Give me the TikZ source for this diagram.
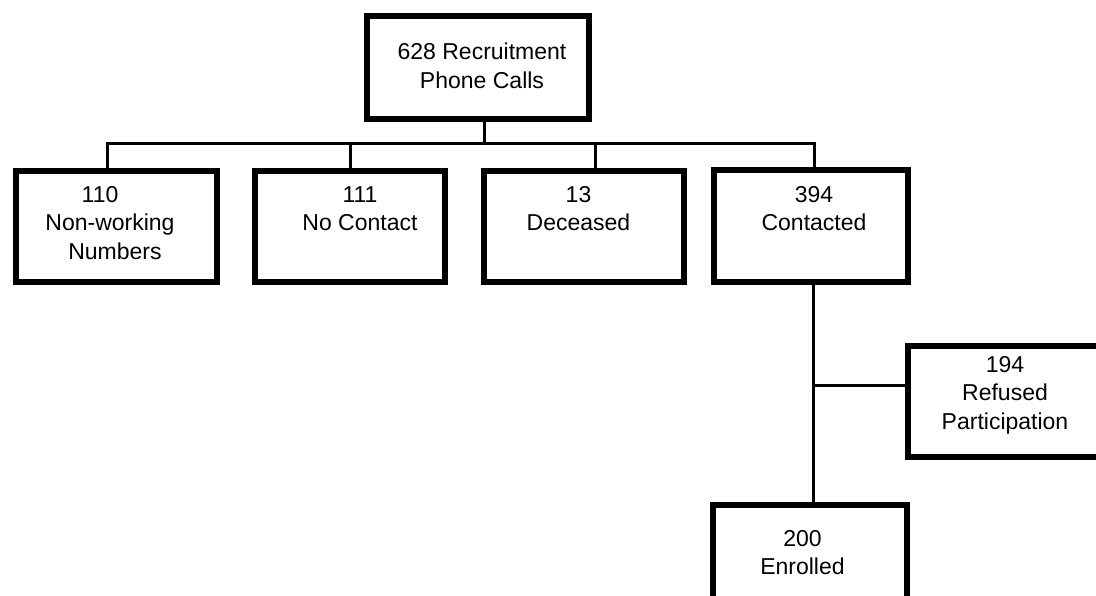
\documentclass[tikz,border=0pt]{standalone}
\usepackage{fontspec}
\setmainfont{Liberation Sans}
\begin{document}
\begin{tikzpicture}[x=1pt,y=-1pt,
  box/.style={draw=black,line width=6pt,rectangle,inner sep=0pt,fill=white},
  lbl/.style={align=center,font=\fontsize{23}{28.5}\selectfont,inner sep=0pt},
  conn/.style={draw=black,line width=3pt}]
\useasboundingbox (0,0) rectangle (1096,596);
\clip (0,0) rectangle (1096,596);
\fill[white] (0,0) rectangle (1096,596);
% boxes
\node[box,minimum width=222pt,minimum height=103pt] (top) at (478,67.5) {};
\node[box,minimum width=201pt,minimum height=111pt] (nonwork) at (116.5,226.5) {};
\node[box,minimum width=190pt,minimum height=111pt] (nocontact) at (350,226.5) {};
\node[box,minimum width=200pt,minimum height=111pt] (deceased) at (584,226.5) {};
\node[box,minimum width=194pt,minimum height=112pt] (contacted) at (811,226) {};
\node[box,minimum width=194pt,minimum height=111pt] (refused) at (1005,401.5) {};
\node[box,minimum width=194pt,minimum height=111pt] (enrolled) at (810,560.5) {};
% labels
\node[lbl] (ttop) at (482,66) {628 Recruitment\\Phone Calls};
\node[lbl] (tnonwork) at (110,223) {\hspace*{-20pt}110\\Non-working\\\hspace*{10pt}Numbers};
\node[lbl] (tnocontact) at (360,208.5) {111\\No Contact};
\node[lbl] (tdeceased) at (578.5,208.5) {13\\Deceased};
\node[lbl] (tcontacted) at (814,208.5) {394\\Contacted};
\node[lbl] (trefused) at (1005,395) {194\\Refused\\Participation};
\node[lbl] (tenrolled) at (802.5,552.5) {200\\Enrolled};
% connectors
\coordinate (bus) at (484,144);
\coordinate (branch) at (813,385);
\draw[conn] ([xshift=6pt]top.south) -- (bus);
\draw[conn] ([xshift=-9.5pt]nonwork.north) -- ([xshift=-9.5pt]nonwork.north |- bus)
  -- ([xshift=3pt]contacted.north |- bus) -- ([xshift=3pt]contacted.north);
\draw[conn] (nocontact.north) -- (nocontact.north |- bus);
\draw[conn] ([xshift=11pt]deceased.north) -- ([xshift=11pt]deceased.north |- bus);
\draw[conn] ([xshift=2pt]contacted.south) -- ([xshift=2pt]contacted.south |- enrolled.north);
\draw[conn] (branch) -- (refused.west |- branch);
\end{tikzpicture}
\end{document}
